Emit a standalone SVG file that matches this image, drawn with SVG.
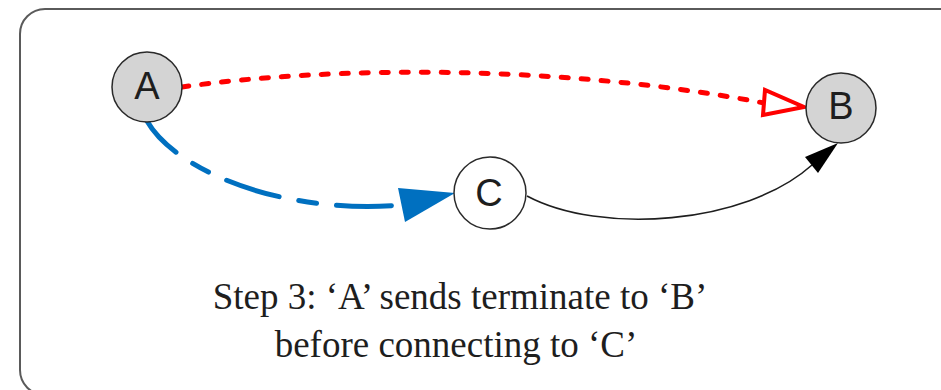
<svg xmlns="http://www.w3.org/2000/svg" width="941" height="390" viewBox="0 0 941 390">
  <style>
    .frame { fill: #ffffff; stroke: #5a5a5a; stroke-width: 2; }
    .node { stroke: #2a2a2a; stroke-width: 1.5; }
    .grey { fill: #d4d4d4; }
    .white { fill: #ffffff; }
    .nlabel { font-family: "Liberation Sans", Arial, sans-serif; font-size: 38px; fill: #1e1e1e; text-anchor: middle; }
    .caption { font-family: "Liberation Serif", "Times New Roman", serif; font-size: 37px; fill: #1e1e1e; text-anchor: middle; }
    .edge { fill: none; }
  </style>

  <!-- outer rounded panel -->
  <rect class="frame" x="20" y="9" width="960" height="386" rx="25" ry="25"/>

  <g id="connectors">
    <!-- A to B: red dotted, hollow head -->
    <path class="edge" d="M182,87 C330,66 560,64 764,103" stroke="#ff0000" stroke-width="5" stroke-dasharray="7 13" stroke-linecap="round"/>
    <polygon points="765,90 763,115 804,107" fill="#ffffff" stroke="#ff0000" stroke-width="4" stroke-linejoin="miter"/>

    <!-- A to C: blue dashed, filled head -->
    <path class="edge" d="M147,121 C175,170 280,215 402,205" stroke="#0070c0" stroke-width="5" stroke-dasharray="55 20 18 20" stroke-dashoffset="12" stroke-linecap="round"/>
    <polygon points="398,188 405,222 455,193" fill="#0070c0"/>

    <!-- C to B: thin black, filled head -->
    <path class="edge" d="M527,196 C600,235 745,225 812,165" stroke="#1e1e1e" stroke-width="1.6"/>
    <polygon points="805,157 818,173 838,143" fill="#000000"/>
  </g>

  <g id="node-A">
    <circle class="node grey" cx="147" cy="87" r="35"/>
    <text class="nlabel" x="147" y="99">A</text>
  </g>

  <g id="node-B">
    <circle class="node grey" cx="841" cy="108" r="35"/>
    <text class="nlabel" x="841" y="119">B</text>
  </g>

  <g id="node-C">
    <circle class="node white" cx="490" cy="193" r="36"/>
    <text class="nlabel" x="489" y="206">C</text>
  </g>

  <g id="caption">
    <text class="caption" x="460" y="309">Step 3: ‘A’ sends terminate to ‘B’</text>
    <text class="caption" x="456" y="357">before connecting to ‘C’</text>
  </g>
</svg>
